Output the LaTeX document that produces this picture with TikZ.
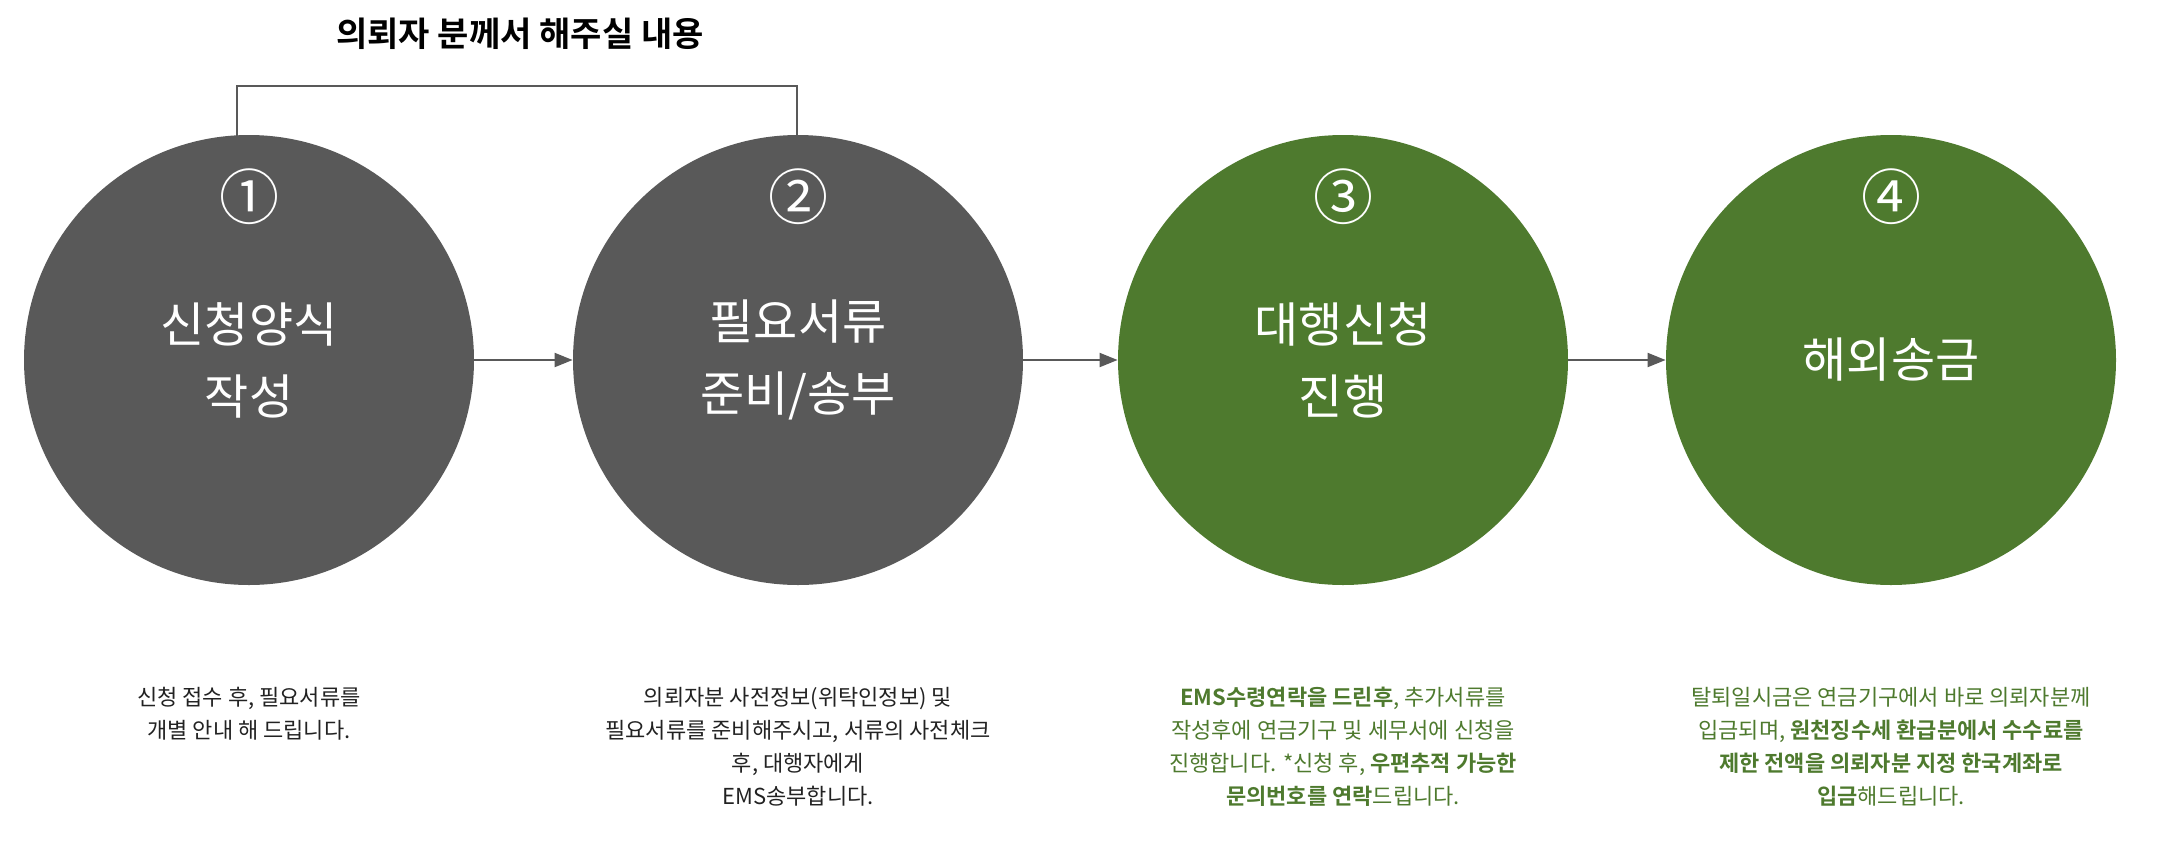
\documentclass[tikz,border=0pt]{standalone}
\usepackage{fontspec}
\setmainfont{Noto Sans CJK KR}
\newfontfamily\kb{Noto Sans CJK KR Bold}
\definecolor{cgray}{HTML}{595959}
\definecolor{cgreen}{HTML}{4E7A2E}
\definecolor{tgray}{HTML}{222222}
\usetikzlibrary{arrows.meta}
\begin{document}
\begin{tikzpicture}[x=0.5pt,y=-0.5pt,
  step circ/.style={circle,minimum size=225pt,inner sep=0pt},
  num/.style={text=white,font=\fontsize{30}{30}\selectfont},
  big/.style={text=white,font=\fontsize{24}{36}\selectfont,align=center},
  desc/.style={font=\fontsize{11}{16.5}\selectfont,align=center},
  flow/.style={draw=cgray,line width=1pt,-{Triangle[length=9pt,width=7pt]}}]
\useasboundingbox (0,0) rectangle (2174,852);
\node[step circ,fill=cgray] (c1) at (249,360) {};
\node[step circ,fill=cgray] (c2) at (798,360) {};
\node[step circ,fill=cgreen] (c3) at (1343,360) {};
\node[step circ,fill=cgreen] (c4) at (1891,360) {};
\node[num] (n1) at (249,197) {①};
\node[num] (n2) at (798,197) {②};
\node[num] (n3) at (1343,197) {③};
\node[num] (n4) at (1891,197) {④};
\node[big] (t1) at (249,360) {신청양식\\작성};
\node[big] (t2) at (798,360) {필요서류\\준비/송부};
\node[big] (t3) at (1343,360) {대행신청\\진행};
\node[big] (t4) at (1891,360) {해외송금};
\draw[flow] (c1) -- (c2);
\draw[flow] (c2) -- (c3);
\draw[flow] (c3) -- (c4);
\coordinate (b1) at (237,86);
\coordinate (b2) at (797,86);
\draw[cgray,line width=1.2pt] (237,137) -- (b1) -- (b2) -- (797,137);
\node[font=\kb\fontsize{17}{20}\selectfont,text=black] (title) at (520,34) {의뢰자 분께서 해주실 내용};
\node[desc,text=tgray,anchor=north] (d1) at (249,680) {신청 접수 후, 필요서류를\\개별 안내 해 드립니다.};
\node[desc,text=tgray,anchor=north] (d2) at (798,680) {의뢰자분 사전정보(위탁인정보) 및\\필요서류를 준비해주시고, 서류의 사전체크\\후, 대행자에게\\EMS송부합니다.};
\node[desc,text=cgreen,anchor=north] (d3) at (1343,680) {{\kb EMS수령연락을 드린후}, 추가서류를\\작성후에 연금기구 및 세무서에 신청을\\진행합니다. *신청 후, {\kb 우편추적 가능한}\\{\kb 문의번호를 연락}드립니다.};
\node[desc,text=cgreen,anchor=north] (d4) at (1891,680) {탈퇴일시금은 연금기구에서 바로 의뢰자분께\\입금되며, {\kb 원천징수세 환급분에서 수수료를}\\{\kb 제한 전액을 의뢰자분 지정 한국계좌로}\\{\kb 입금}해드립니다.};
\end{tikzpicture}
\end{document}
